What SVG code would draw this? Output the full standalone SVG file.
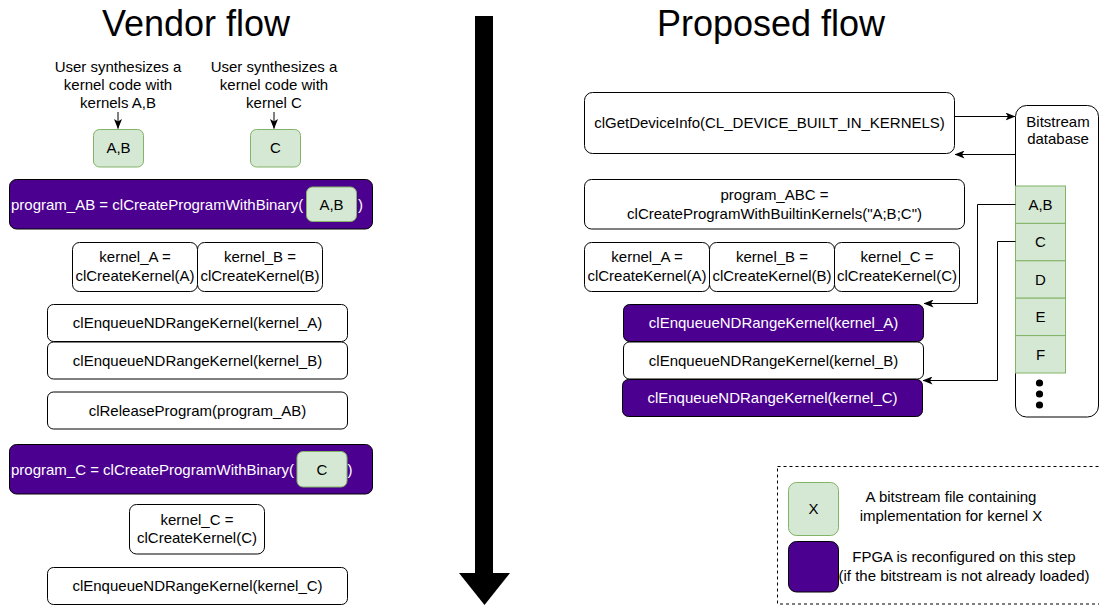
<svg xmlns="http://www.w3.org/2000/svg" width="1099" height="606" viewBox="0 0 1099 606">
<style>
text{font-family:"Liberation Sans",Arial,sans-serif;font-size:15px;fill:#000;text-anchor:middle}
.title{font-size:36px}
.w{fill:#fff;stroke:#000;stroke-width:1}
.p{fill:#4c0090;stroke:#000;stroke-width:1}
.g{fill:#d5e8d4;stroke:#82b366;stroke-width:1}
.pt{fill:#fff}
.st{text-anchor:start}
.c{fill:none;stroke:#000;stroke-width:1}
</style>
<defs>
<marker id="ah" viewBox="0 0 10 8" refX="9.5" refY="4" markerWidth="10" markerHeight="8" markerUnits="userSpaceOnUse" orient="auto">
<path d="M0,0 L10,4 L0,8 L2.5,4 Z" fill="#000"/>
</marker>
</defs>
<rect width="1099" height="606" fill="#fff"/>

<g id="titles">
<text class="title" x="196" y="36">Vendor flow</text>
<text class="title" x="771" y="36">Proposed flow</text>
</g>

<g id="big-arrow">
<rect x="475" y="16" width="18" height="558" fill="#000"/>
<polygon points="459,573 510,573 484.5,605" fill="#000"/>
</g>

<g id="user-ab">
<text x="118" y="72">User synthesizes a</text>
<text x="118" y="90">kernel code with</text>
<text x="118" y="108">kernels A,B</text>
</g>
<g id="user-c">
<text x="274" y="72">User synthesizes a</text>
<text x="274" y="90">kernel code with</text>
<text x="274" y="108">kernel C</text>
</g>

<g id="bin-ab"><rect class="g" x="93.5" y="129.5" width="50" height="37.5" rx="6"/><text x="118.5" y="153">A,B</text></g>
<g id="bin-c"><rect class="g" x="250.5" y="129.5" width="50" height="37.5" rx="6"/><text x="275.5" y="153">C</text></g>

<g id="program-ab">
<rect class="p" x="9.5" y="179.5" width="363" height="49.5" rx="7"/>
<text class="pt st" x="11" y="209.5">program_AB = clCreateProgramWithBinary(</text>
<rect class="g" x="306.5" y="187" width="50" height="34.5" rx="6"/>
<text x="331.5" y="209.5">A,B</text>
<text class="pt st" x="358" y="209.5">)</text>
</g>

<g id="l-kernel-a"><rect class="w" x="72.5" y="242.5" width="125" height="49" rx="7"/><text x="135" y="262">kernel_A =</text><text x="135" y="281">clCreateKernel(A)</text></g>
<g id="l-kernel-b"><rect class="w" x="197.5" y="242.5" width="125" height="49" rx="7"/><text x="260" y="262">kernel_B =</text><text x="260" y="281">clCreateKernel(B)</text></g>

<g id="l-enq-a"><rect class="w" x="47.5" y="304.5" width="300" height="37" rx="6"/><text x="197.5" y="328">clEnqueueNDRangeKernel(kernel_A)</text></g>
<g id="l-enq-b"><rect class="w" x="47.5" y="342" width="300" height="37" rx="6"/><text x="197.5" y="365.5">clEnqueueNDRangeKernel(kernel_B)</text></g>
<g id="l-release"><rect class="w" x="47.5" y="392" width="300" height="37" rx="6"/><text x="197.5" y="415.5">clReleaseProgram(program_AB)</text></g>

<g id="program-c">
<rect class="p" x="9.5" y="444.5" width="363" height="49.5" rx="7"/>
<text class="pt st" x="11" y="474.5">program_C = clCreateProgramWithBinary(</text>
<rect class="g" x="297" y="451.5" width="50" height="35.5" rx="6"/>
<text x="322" y="474.5">C</text>
<text class="pt st" x="347.5" y="474.5">)</text>
</g>

<g id="l-kernel-c"><rect class="w" x="129.5" y="504.5" width="135" height="49.5" rx="7"/><text x="197" y="525">kernel_C =</text><text x="197" y="543">clCreateKernel(C)</text></g>
<g id="l-enq-c"><rect class="w" x="47.5" y="567.5" width="300" height="37" rx="6"/><text x="197.5" y="591">clEnqueueNDRangeKernel(kernel_C)</text></g>

<g id="get-device-info"><rect class="w" x="584.5" y="92.5" width="370" height="61" rx="8"/><text x="769.5" y="127.5">clGetDeviceInfo(CL_DEVICE_BUILT_IN_KERNELS)</text></g>

<g id="program-abc"><rect class="w" x="584.5" y="179.5" width="380" height="49.5" rx="7"/><text x="774.5" y="200">program_ABC =</text><text x="774.5" y="219">clCreateProgramWithBuiltinKernels("A;B;C")</text></g>

<g id="r-kernel-a"><rect class="w" x="584.5" y="242.5" width="125" height="49" rx="7"/><text x="647" y="262">kernel_A =</text><text x="647" y="281">clCreateKernel(A)</text></g>
<g id="r-kernel-b"><rect class="w" x="709.5" y="242.5" width="125" height="49" rx="7"/><text x="772" y="262">kernel_B =</text><text x="772" y="281">clCreateKernel(B)</text></g>
<g id="r-kernel-c"><rect class="w" x="834.5" y="242.5" width="125" height="49" rx="7"/><text x="897" y="262">kernel_C =</text><text x="897" y="281">clCreateKernel(C)</text></g>

<g id="r-enq-a"><rect class="p" x="623.5" y="304.5" width="300" height="37" rx="6"/><text class="pt" x="773.5" y="328">clEnqueueNDRangeKernel(kernel_A)</text></g>
<g id="r-enq-b"><rect class="w" x="623.5" y="342" width="300" height="37" rx="6"/><text x="773.5" y="365.5">clEnqueueNDRangeKernel(kernel_B)</text></g>
<g id="r-enq-c"><rect class="p" x="622.5" y="379.5" width="300" height="37" rx="6"/><text class="pt" x="772.5" y="403">clEnqueueNDRangeKernel(kernel_C)</text></g>

<g id="database">
<rect class="w" x="1015.5" y="105.5" width="83" height="311.5" rx="11"/>
<text x="1058" y="127">Bitstream</text>
<text x="1058" y="144">database</text>
<rect class="g" x="1015.5" y="186" width="50" height="37.4"/><text x="1040.5" y="210">A,B</text>
<rect class="g" x="1015.5" y="223.4" width="50" height="37.4"/><text x="1040.5" y="247">C</text>
<rect class="g" x="1015.5" y="260.8" width="50" height="37.4"/><text x="1040.5" y="284.5">D</text>
<rect class="g" x="1015.5" y="298.2" width="50" height="37.4"/><text x="1040.5" y="322">E</text>
<rect class="g" x="1015.5" y="335.6" width="50" height="37.4"/><text x="1040.5" y="359.5">F</text>
<circle cx="1039.5" cy="383" r="3.6" fill="#000"/>
<circle cx="1039.5" cy="394" r="3.6" fill="#000"/>
<circle cx="1039.5" cy="405" r="3.6" fill="#000"/>
</g>

<g id="connectors">
<path class="c" d="M118,112 V128.5" marker-end="url(#ah)"/>
<path class="c" d="M274,112 V128.5" marker-end="url(#ah)"/>
<path class="c" d="M954.5,116.5 H1015" marker-end="url(#ah)"/>
<path class="c" d="M1015.5,154.5 H955" marker-end="url(#ah)"/>
<path class="c" d="M1015.5,204.5 H977.5 V303.5 H924" marker-end="url(#ah)"/>
<path class="c" d="M1015.5,241.5 H997.5 V380.5 H923" marker-end="url(#ah)"/>
</g>

<g id="legend">
<rect x="777.5" y="466.5" width="330" height="137.5" fill="none" stroke="#000" stroke-width="1" stroke-dasharray="3,3"/>
<rect class="g" x="788.5" y="482.5" width="50" height="53" rx="8"/>
<text x="813.5" y="514">X</text>
<rect class="p" x="788.5" y="541.5" width="50" height="50.5" rx="8"/>
<text x="951" y="502">A bitstream file containing</text>
<text x="951" y="521">implementation for kernel X</text>
<text x="964" y="562">FPGA is reconfigured on this step</text>
<text x="964" y="581">(if the bitstream is not already loaded)</text>
</g>
</svg>
